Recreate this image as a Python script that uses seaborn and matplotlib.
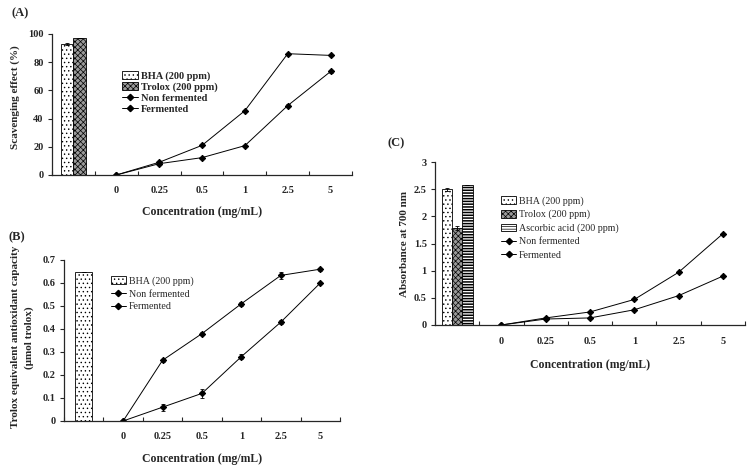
import numpy as np
import pandas as pd
import matplotlib
matplotlib.use("Agg")
import matplotlib.pyplot as plt
import seaborn as sns
from matplotlib.patches import Patch
from matplotlib.lines import Line2D
from matplotlib.ticker import FuncFormatter, FixedLocator

# ======================
# Data
# ======================
CONC_LABELS = ["0", "0.25", "0.5", "1", "2.5", "5"]

# (A) scavenging effect (%)
A_STANDARDS = ["BHA (200 ppm)", "Trolox (200 ppm)"]
A_STD_VALUES = [93.0, 97.0]
A_STD_ERR = [0.6, 0.0]
A_NONFERM = [0, 8.0, 12.3, 20.8, 49.2, 73.4]
A_NONFERM_ERR = [0, 0.5, 0.5, 0.6, 0.8, 0.8]
A_FERM = [0, 9.0, 21.0, 45.6, 86.0, 84.8]
A_FERM_ERR = [0, 0.5, 0.6, 0.8, 0.8, 0.6]

# (B) trolox equivalent antioxidant capacity
B_STANDARDS = ["BHA (200 ppm)"]
B_STD_VALUES = [0.648]
B_STD_ERR = [0.0]
B_NONFERM = [0, 0.06, 0.12, 0.28, 0.43, 0.60]
B_NONFERM_ERR = [0, 0.015, 0.02, 0.012, 0.008, 0.005]
B_FERM = [0, 0.264, 0.38, 0.51, 0.633, 0.66]
B_FERM_ERR = [0, 0.006, 0.006, 0.008, 0.015, 0.006]

# (C) absorbance at 700 nm
C_STANDARDS = ["BHA (200 ppm)", "Trolox (200 ppm)", "Ascorbic acid (200 ppm)"]
C_STD_VALUES = [2.50, 1.78, 2.58]
C_STD_ERR = [0.03, 0.04, 0.0]
C_NONFERM = [0, 0.11, 0.13, 0.28, 0.54, 0.90]
C_NONFERM_ERR = [0, 0.01, 0.01, 0.01, 0.02, 0.02]
C_FERM = [0, 0.13, 0.24, 0.47, 0.97, 1.68]
C_FERM_ERR = [0, 0.01, 0.01, 0.01, 0.02, 0.02]

# ======================
# Style
# ======================
# facecolor, hatch, hatch linewidth
STD_STYLE = {
    "BHA (200 ppm)": ("white", "....", 0.5),
    "Trolox (200 ppm)": ("#9a9a9a", "xxxxxx", 0.5),
    "Ascorbic acid (200 ppm)": ("white", "------", 1.1),
}

sns.set_style("ticks")
plt.rcParams["font.family"] = ["Liberation Serif", "DejaVu Serif"]
plt.rcParams["hatch.linewidth"] = 0.5
plt.rcParams["axes.linewidth"] = 0.9

TICK_FS = 7.5
LABEL_FS = 8.5
MS = 3.2
LW = 0.7


def style_hatch(patch, s):
    face, hatch, hlw = STD_STYLE[s]
    patch.set_hatch(hatch)
    if hasattr(patch, "set_hatch_linewidth"):
        patch.set_hatch_linewidth(hlw)


def draw_panel(ax, standards, std_values, std_err, nonferm, nonferm_err,
               ferm, ferm_err, bar_width, ymax, ystep, ylabel, legend_pos,
               legend_spacing, legend_bold, legend_fs, xlabel_y, tick_pad):
    x_pos = np.arange(1, len(CONC_LABELS) + 1)

    # standards as bars in the first (unlabelled) slot
    std_df = pd.DataFrame({"pos": 0.0, "value": std_values, "standard": standards})
    palette = {s: STD_STYLE[s][0] for s in standards}
    sns.barplot(data=std_df, x="pos", y="value", hue="standard", hue_order=standards,
                native_scale=True, dodge=True, width=bar_width, palette=palette,
                edgecolor="black", linewidth=0.6, errorbar=None, legend=False,
                saturation=1, ax=ax)
    centers = []
    for cont, s in zip(ax.containers, standards):
        for bar in cont:
            style_hatch(bar, s)
            centers.append(bar.get_x() + bar.get_width() / 2)
    ax.errorbar(centers, std_values, yerr=std_err, fmt="none", ecolor="black",
                elinewidth=0.6, capsize=1.5, capthick=0.6)

    # concentration series
    for vals, errs in [(nonferm, nonferm_err), (ferm, ferm_err)]:
        sns.lineplot(x=x_pos, y=vals, color="black", marker="D", markersize=MS,
                     markeredgecolor="black", linewidth=LW, ax=ax, legend=False)
        ax.errorbar(x_pos, vals, yerr=errs, fmt="none", ecolor="black",
                    elinewidth=0.6, capsize=1.5, capthick=0.6)

    # axes
    ax.set_xlim(-0.5, len(CONC_LABELS) + 0.5)
    ax.set_ylim(0, ymax)
    ax.set_xticks(x_pos)
    ax.set_xticklabels(CONC_LABELS)
    ax.xaxis.set_minor_locator(FixedLocator(np.arange(-0.5, len(CONC_LABELS) + 1, 1)))
    ax.tick_params(axis="x", which="major", length=0, pad=tick_pad)
    ax.tick_params(axis="x", which="minor", length=3, direction="in", width=0.8)
    ax.set_yticks(np.arange(0, ymax + ystep / 2, ystep))
    ax.yaxis.set_major_formatter(FuncFormatter(lambda v, p: f"{v:g}"))
    ax.tick_params(axis="y", length=3, width=0.8, pad=3)
    for lab in ax.get_xticklabels() + ax.get_yticklabels():
        lab.set_fontsize(TICK_FS)
        lab.set_fontweight("bold")
    sns.despine(ax=ax)

    ax.set_xlabel("Concentration (mg/mL)", fontsize=LABEL_FS, fontweight="bold")
    ax.xaxis.set_label_coords(0.5, xlabel_y)
    ax.set_ylabel(ylabel[0], fontsize=8, fontweight="bold", va="center", linespacing=1.6)
    ax.yaxis.set_label_coords(ylabel[1], ylabel[2])

    # legend
    handles = []
    for s in standards:
        p = Patch(facecolor=STD_STYLE[s][0], edgecolor="black", linewidth=0.6)
        style_hatch(p, s)
        handles.append(p)
    handles += [Line2D([], [], color="black", marker="D", markersize=MS, linewidth=LW)
                for _ in range(2)]
    labels = list(standards) + ["Non fermented", "Fermented"]
    ax.legend(handles, labels, loc="upper left", bbox_to_anchor=legend_pos,
              frameon=False, borderpad=0, borderaxespad=0, handlelength=1.5,
              handleheight=0.8, handletextpad=0.3, labelspacing=legend_spacing,
              prop={"size": legend_fs, "weight": "bold" if legend_bold else "normal"})


fig = plt.figure(figsize=(7.53, 4.71), dpi=100)

ax_a = fig.add_axes([0.0691, 0.6285, 0.3984, 0.2994])
draw_panel(ax_a, A_STANDARDS, A_STD_VALUES, A_STD_ERR, A_NONFERM, A_NONFERM_ERR,
           A_FERM, A_FERM_ERR, bar_width=0.6, ymax=100, ystep=20,
           ylabel=("Scavenging effect (%)", -0.123, 0.55), legend_pos=(0.233, 0.735),
           legend_spacing=0.12, legend_bold=True, legend_fs=7.5, xlabel_y=-0.22, tick_pad=8)

ax_b = fig.add_axes([0.0850, 0.1062, 0.3665, 0.3418])
draw_panel(ax_b, B_STANDARDS, B_STD_VALUES, B_STD_ERR, B_NONFERM, B_NONFERM_ERR,
           B_FERM, B_FERM_ERR, bar_width=0.43, ymax=0.7, ystep=0.1,
           ylabel=("Trolox equivalent antioxidant capacity\n(\u03bcmol trolox)", -0.15, 0.52),
           legend_pos=(0.170, 0.90), legend_spacing=0.35, legend_bold=False, legend_fs=7.2,
           xlabel_y=-0.20, tick_pad=8)

ax_c = fig.add_axes([0.5777, 0.3100, 0.4117, 0.3460])
draw_panel(ax_c, C_STANDARDS, C_STD_VALUES, C_STD_ERR, C_NONFERM, C_NONFERM_ERR,
           C_FERM, C_FERM_ERR, bar_width=0.7, ymax=3, ystep=0.5,
           ylabel=("Absorbance at 700 nm", -0.097, 0.5), legend_pos=(0.213, 0.79),
           legend_spacing=0.4, legend_bold=False, legend_fs=7.2, xlabel_y=-0.21, tick_pad=9)

fig.text(0.027, 0.972, "(A)", fontsize=9, fontweight="bold", ha="center", va="center")
fig.text(0.022, 0.497, "(B)", fontsize=9, fontweight="bold", ha="center", va="center")
fig.text(0.526, 0.696, "(C)", fontsize=9, fontweight="bold", ha="center", va="center")

fig.savefig("out.png", dpi=100)
